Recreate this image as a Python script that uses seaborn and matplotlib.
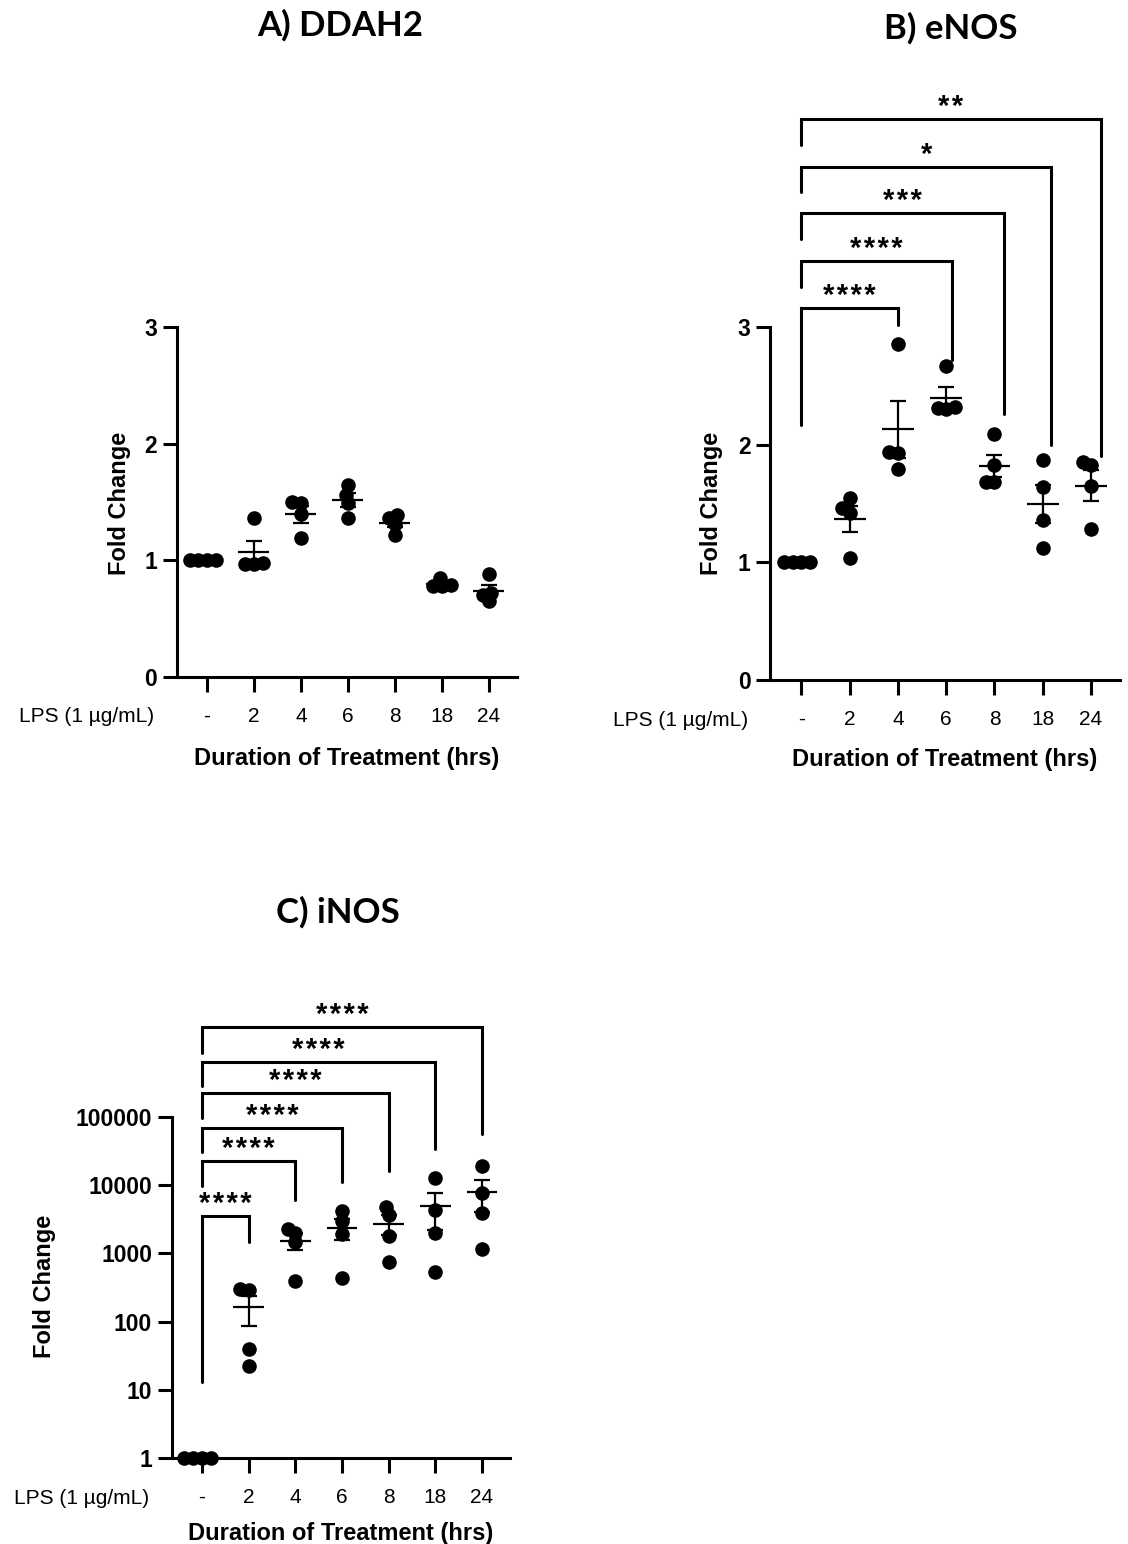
import numpy as np
import pandas as pd
import matplotlib
matplotlib.use("Agg")
import matplotlib.pyplot as plt
from matplotlib.ticker import NullLocator
import seaborn as sns

# treatment groups (hours of LPS, "-" = untreated)
groups = ["-", "2", "4", "6", "8", "18", "24"]

# fold change, 4 replicates per group
ddah2 = [[1.0, 1.0, 1.0, 1.0],
         [1.36, 0.97, 0.98, 0.97],
         [1.50, 1.49, 1.40, 1.19],
         [1.56, 1.65, 1.49, 1.36],
         [1.39, 1.36, 1.31, 1.22],
         [0.85, 0.78, 0.78, 0.79],
         [0.88, 0.70, 0.65, 0.72]]

enos = [[1.0, 1.0, 1.0, 1.0],
        [1.46, 1.55, 1.42, 1.04],
        [2.86, 1.94, 1.93, 1.79],
        [2.67, 2.32, 2.31, 2.30],
        [2.09, 1.83, 1.68, 1.68],
        [1.87, 1.64, 1.36, 1.12],
        [1.83, 1.85, 1.65, 1.28]]

inos = [[1.0, 1.0, 1.0, 1.0],
        [290, 300, 40, 22],
        [2280, 2000, 1480, 390],
        [4100, 3000, 1900, 440],
        [4700, 3600, 1800, 750],
        [12700, 4300, 2000, 540],
        [19000, 7700, 3900, 1150]]

# significance vs untreated
enos_sig_groups = ["4", "6", "8", "18", "24"]
enos_sig = ["****", "****", "***", "*", "**"]
enos_br_top = [3.16, 3.56, 3.97, 4.36, 4.77]
enos_br_left = [2.17, 3.34, 3.75, 4.15, 4.55]
enos_br_right = [3.02, 2.72, 2.26, 2.0, 1.90]

inos_sig_groups = ["2", "4", "6", "8", "18", "24"]
inos_sig = ["****"] * 6
inos_br_top = [10**3.55, 10**4.35, 10**4.84, 10**5.35, 10**5.81, 10**6.32]
inos_br_left = [10**1.11, 10**3.99, 10**4.49, 10**4.99, 10**5.45, 10**5.94]
inos_br_right = [10**3.17, 10**3.78, 10**4.05, 10**4.21, 10**4.53, 10**4.75]

W, H = 1128, 1544
DOT = 10.5

sns.set_theme(style="ticks")
plt.rcParams['font.family'] = ['Liberation Sans', 'DejaVu Sans']
plt.rcParams['text.color'] = 'black'
plt.rcParams['axes.labelcolor'] = 'black'

fig = plt.figure(figsize=(W / 100, H / 100), dpi=100)
swarms = []


def px_axes(left, right, bottom, top):
    return fig.add_axes([left / W, 1 - bottom / H, (right - left) / W, (bottom - top) / H])


def long_df(vals):
    rows = []
    for g, v in zip(groups, vals):
        for x in v:
            rows.append({"time": g, "fold": x})
    return pd.DataFrame(rows)


def draw_panel(ax, vals, xpad):
    df = long_df(vals)
    n0 = len(ax.collections)
    # swarm laid out tighter than the dot size so dots overlap a little, like prism
    sns.swarmplot(data=df, x="time", y="fold", order=groups, color="black",
                  size=6, ax=ax, zorder=3, clip_on=False, warn_thresh=1)
    swarms.extend(ax.collections[n0:])
    stats = df.groupby("time", sort=False)["fold"].agg(["mean", "sem"]).reindex(groups)
    xs = np.arange(len(groups))
    ax.hlines(stats["mean"], xs - 0.33, xs + 0.33, color="black", lw=1.6, zorder=4)
    ax.errorbar(xs, stats["mean"], yerr=stats["sem"], fmt="none", ecolor="black",
                elinewidth=1.6, capsize=5.5, capthick=1.6, zorder=4)
    ax.set_xlim(-0.65, 6.6)
    sns.despine(ax=ax)
    for s in ["left", "bottom"]:
        ax.spines[s].set_linewidth(2.2)
        ax.spines[s].set_color("black")
    ax.tick_params(axis="x", length=11, width=2.2, labelsize=15, pad=10.5, colors="black")
    ax.tick_params(axis="y", length=10, width=2.2, labelsize=16.5, pad=4, colors="black")
    ax.set_xlabel("Duration of Treatment (hrs)", fontsize=17, fontweight="bold", labelpad=xpad)
    ax.set_ylabel("Fold Change", fontsize=17, fontweight="bold")
    ax.annotate("LPS (1 µg/mL)", xy=(0, 0), xycoords="axes fraction", xytext=(-22, -40),
                textcoords="offset pixels", ha="right", va="center", fontsize=15)


def brackets(ax, sig_groups, labels, top, left, right, shifts):
    for g, lab, t, l, r, sh in zip(sig_groups, labels, top, left, right, shifts):
        xr = groups.index(g) + sh
        ax.plot([0, 0, xr, xr], [l, t, t, r], color="black", lw=2.2,
                clip_on=False, solid_joinstyle="miter", zorder=5)
        ax.annotate("\u200a".join(lab), xy=(xr / 2, t), xytext=(0, 4),
                    textcoords="offset pixels", ha="center", va="baseline",
                    fontsize=21, fontweight="bold",
                    family=["Liberation Sans", "DejaVu Sans"])


# A) DDAH2
axA = px_axes(176.5, 517, 677, 82)
draw_panel(axA, ddah2, 15)
axA.set_ylim(0, 5.1)
axA.set_yticks([0, 1, 2, 3])
axA.spines["left"].set_bounds(0, 3)
axA.yaxis.set_label_coords(-0.135, 0.292)

# B) eNOS
axB = px_axes(770, 1120, 680, 80)
draw_panel(axB, enos, 14)
axB.set_ylim(0, 5.1)
axB.set_yticks([0, 1, 2, 3])
axB.spines["left"].set_bounds(0, 3)
axB.yaxis.set_label_coords(-0.135, 0.294)
brackets(axB, enos_sig_groups, enos_sig, enos_br_top, enos_br_left, enos_br_right,
         [0, 0.12, 0.2, 0.18, 0.2])

# C) iNOS
axC = px_axes(171.6, 510, 1458, 994)
axC.set_yscale("log")
draw_panel(axC, inos, 11)
axC.set_ylim(1, 10**6.8)
axC.set_yticks([1, 10, 100, 1000, 10000, 100000])
axC.set_yticklabels(["1", "10", "100", "1000", "10000", "100000"])
axC.yaxis.set_minor_locator(NullLocator())
axC.spines["left"].set_bounds(1, 100000)
axC.yaxis.set_label_coords(-0.342, 0.37)
brackets(axC, inos_sig_groups, inos_sig, inos_br_top, inos_br_left, inos_br_right,
         [0] * 6)

for ax in [axA, axB, axC]:
    for t in ax.get_yticklabels():
        t.set_fontweight("bold")

fig.text(340 / W, 1 - 25 / H, "A) DDAH2", ha="center", va="center",
         fontsize=25, fontweight="bold", family=["Lato", "DejaVu Sans"])
fig.text(951 / W, 1 - 28 / H, "B) eNOS", ha="center", va="center",
         fontsize=25, fontweight="bold", family=["Lato", "DejaVu Sans"])
fig.text(338 / W, 1 - 912 / H, "C) iNOS", ha="center", va="center",
         fontsize=25, fontweight="bold", family=["Lato", "DejaVu Sans"])

# fix the swarm positions, then draw the dots at full size
fig.canvas.draw()
for coll in swarms:
    if "draw" in coll.__dict__:
        del coll.draw
    coll.set_sizes([DOT ** 2])

fig.savefig("out.png", dpi=100, facecolor="white")
